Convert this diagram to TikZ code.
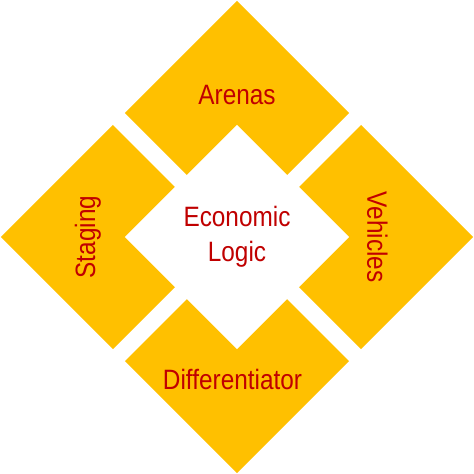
\documentclass[tikz,border=0pt]{standalone}
\usepackage{fontspec}
\newfontfamily\narrowsans[FakeStretch=0.87]{Liberation Sans}
\usepackage{tikz}
\usetikzlibrary{shapes.geometric, positioning}
\definecolor{gold}{RGB}{255,192,0}
\definecolor{darkred}{RGB}{192,0,0}

\begin{document}
\begin{tikzpicture}[node distance=124pt]
\tikzstyle{piece}=[diamond,aspect=1,fill=gold,draw=none,inner sep=0pt,outer sep=0pt,minimum width=224pt,minimum height=224pt]
\tikzstyle{word}=[text=darkred,inner sep=0pt]
\tikzset{font=\narrowsans\fontsize{28pt}{35pt}\selectfont}

        \fill[white] (-237pt,-237pt) rectangle (237pt,237pt);
        \useasboundingbox (-237pt,-237pt) rectangle (237pt,237pt);

        \coordinate (O) at (0,0);

        \node[piece]                (A)   [above of=O]      {};
        \node[piece]                (V)   [right of=O]      {};
        \node[piece]                (D)   [below of=O]      {};
        \node[piece]                (S)   [left of=O]       {};

        \node[piece, fill=white, text=darkred, align=center]     (L) at (O)      {Economic\\Logic};

        \node[word, node distance=17.5pt]                 (tA)  [above of=A]      {Arenas};
        \node[word, node distance=16.5pt]                 (tV)  [right of=V]      {\rotatebox{-90}{Vehicles}};
        \node[word, node distance=18.5pt, xshift=-4.5pt]  (tD)  [below of=D]      {Differentiator};
        \node[word, node distance=25pt]                   (tS)  [left of=S]       {\rotatebox{90}{Staging}};

\end{tikzpicture}
\end{document}
